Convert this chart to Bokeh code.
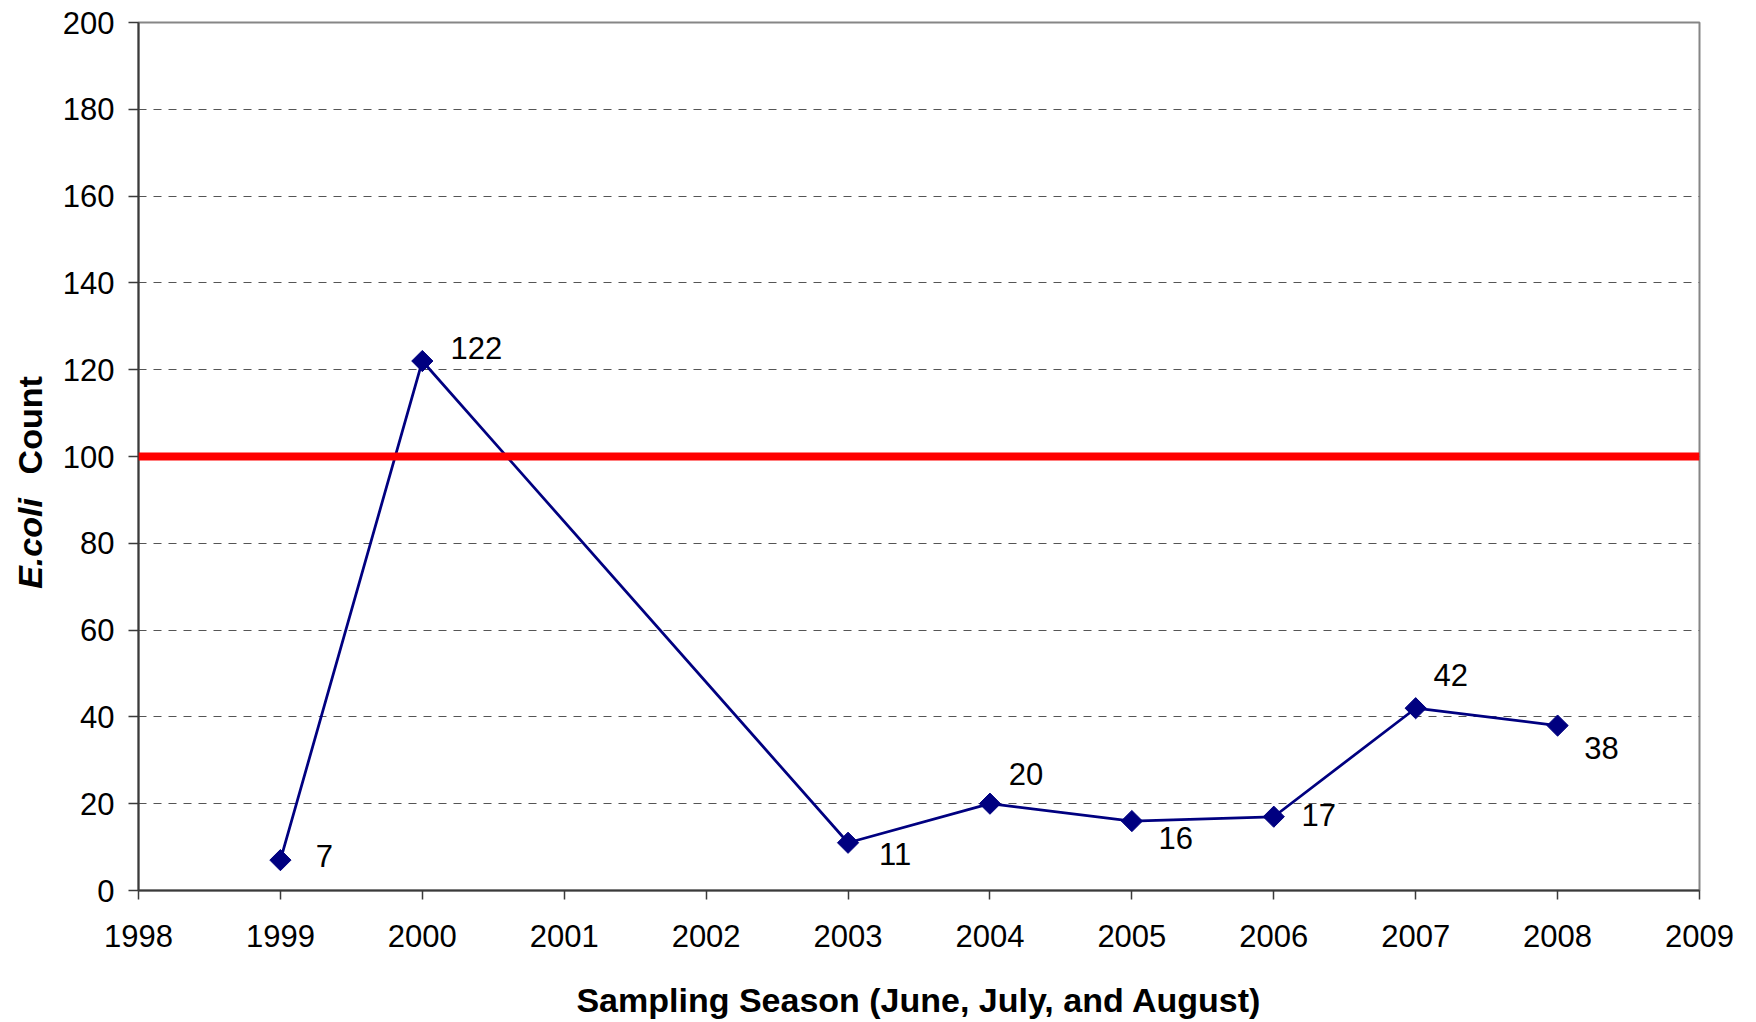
import math
from bokeh.plotting import figure
from bokeh.layouts import row
from bokeh.models import Span, ColumnDataSource, FixedTicker, Range1d
from bokeh.core.properties import value
from bokeh.embed import file_html
from bokeh.resources import INLINE

# data
years = [1999, 2000, 2003, 2004, 2005, 2006, 2007, 2008]
ecoli = [7, 122, 11, 20, 16, 17, 42, 38]
value_labels = ["7", "122", "11", "20", "16", "17", "42", "38"]
standard = 100
x_ticks = list(range(1998, 2010))
y_ticks = list(range(0, 201, 20))
y_title_parts = ["E.coli", "Count"]

# label placement (screen pixels)
label_dx = [44, 54, 47, 36, 44, 45, 35, 44]
label_dy = [-4, -13, 11, -30, 17, -2, -33, 22]

FONT = "Liberation Sans"
H = 1021
LW = 50

p = figure(width=1748 - LW, height=H, output_backend="svg", toolbar_location=None,
           x_range=Range1d(1998, 2009), y_range=Range1d(0, 200),
           min_border_left=138 - LW, min_border_right=49, min_border_top=22, min_border_bottom=121)

# narrow strip holding the mixed-style y-axis title (frame aligned with main plot)
side = figure(width=LW, height=H, output_backend="svg", toolbar_location=None,
              x_range=Range1d(0, LW), y_range=p.y_range,
              min_border_left=0, min_border_right=0, min_border_top=0, min_border_bottom=0)
side.axis.visible = False
side.grid.visible = False
side.outline_line_color = None
side.background_fill_color = "white"
side.border_fill_color = "white"
side.text(x=[29], y=[69.5], text=[y_title_parts[0]], angle=math.pi / 2,
          text_align="left", text_baseline="middle", text_font=value(FONT),
          text_font_size="34px", text_font_style="bold italic", text_color="black")
side.text(x=[29], y=[118.5], text=[y_title_parts[1]], angle=math.pi / 2,
          text_align="right", text_baseline="middle", text_font=value(FONT),
          text_font_size="34px", text_font_style="bold", text_color="black")

p.background_fill_color = "white"
p.border_fill_color = "white"
p.outline_line_color = "#868686"
p.outline_line_width = 2

# grid
p.xgrid.grid_line_color = None
p.ygrid.grid_line_color = "#555555"
p.ygrid.grid_line_dash = "8 7"
p.ygrid.grid_line_width = 1
p.ygrid.ticker = FixedTicker(ticks=y_ticks)

# axes
for ax in (p.xaxis[0], p.yaxis[0]):
    ax.axis_line_color = "#3a3a3a"
    ax.axis_line_width = 2
    ax.major_tick_line_color = "#3a3a3a"
    ax.major_tick_line_width = 1.5
    ax.major_tick_in = 0
    ax.minor_tick_line_color = None
    ax.major_label_text_font = FONT
    ax.major_label_text_font_size = "31px"
    ax.major_label_text_color = "black"

p.xaxis.ticker = FixedTicker(ticks=x_ticks)
p.xaxis.major_tick_out = 9
p.xaxis.major_label_standoff = 25
p.xaxis.axis_label = "Sampling Season (June, July, and August)"
p.xaxis.axis_label_text_font = FONT
p.xaxis.axis_label_text_font_style = "bold"
p.xaxis.axis_label_text_font_size = "34px"
p.xaxis.axis_label_text_color = "black"
p.xaxis.axis_label_standoff = 31

p.yaxis.ticker = FixedTicker(ticks=y_ticks)
p.yaxis.major_tick_out = 10
p.yaxis.major_label_standoff = 14

# standard line
p.add_layout(Span(location=standard, dimension="width", line_color="#ff0000", line_width=8))

src = ColumnDataSource(dict(x=years, y=ecoli, lab=value_labels, dx=label_dx, dy=label_dy))
p.line("x", "y", source=src, line_color="#000080", line_width=2.75)
p.scatter("x", "y", source=src, marker="square", size=15, angle=math.pi / 4,
          fill_color="#000080", line_color="#000080")
p.text("x", "y", text="lab", source=src, x_offset="dx", y_offset="dy",
       text_font=value(FONT), text_font_size="31px", text_color="black",
       text_align="center", text_baseline="middle")

layout = row(side, p)
open("out.html", "w").write(file_html(layout, INLINE))
